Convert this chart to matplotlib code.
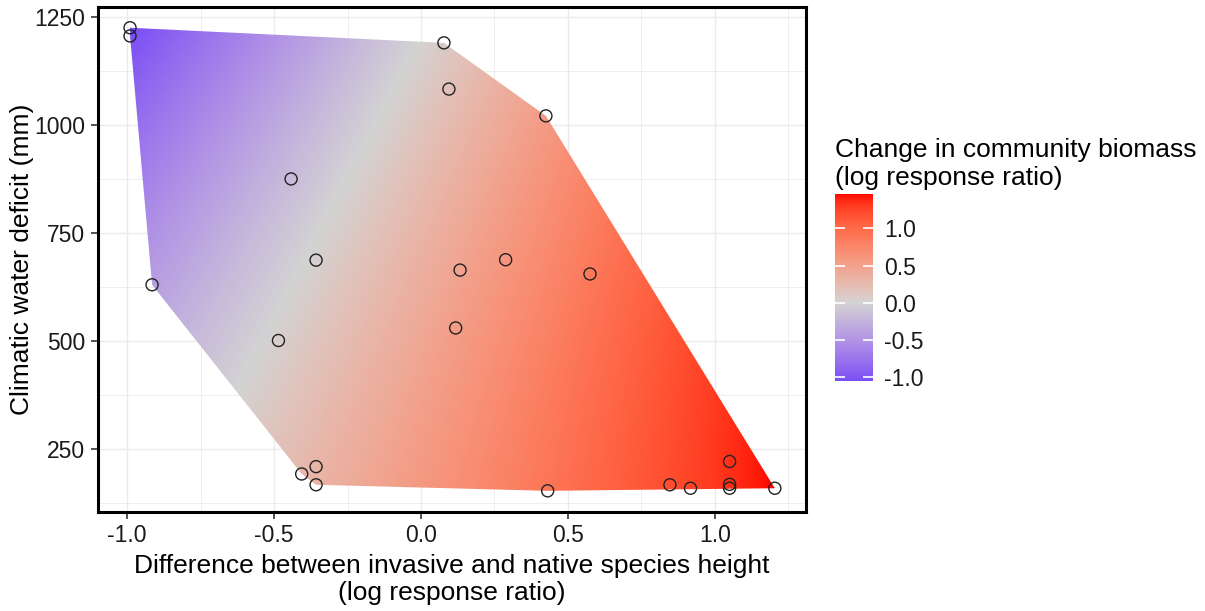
import numpy as np
import matplotlib
matplotlib.use("Agg")
import matplotlib.pyplot as plt
from matplotlib.colors import ListedColormap, Normalize
from matplotlib.patches import Polygon

plt.rcParams['font.family'] = ['Liberation Sans', 'DejaVu Sans']

# observed sites: height difference (log RR) and climatic water deficit (mm)
height_diff = [-0.99, -0.99, -0.442, -0.357, -0.915, 0.078, 0.095, 0.425,
               0.133, 0.288, 0.575, 0.118, 0.431, 0.847, 0.917, 1.05,
               1.05, 1.05, 1.204, -0.485, -0.406, -0.357, -0.357]
water_deficit = [1225, 1206, 875, 687, 630, 1190, 1083, 1021,
                 664, 688, 655, 530, 153, 167, 159, 221,
                 168, 159, 159, 501, 192, 209, 167]

# fitted biomass surface: z = (s0 + s1*y) * (x - (x0 + x1*y))
slope_coef = [0.683, 0.000295]
zero_coef = [-0.916, 0.00076]

cbar_ticks = [-1.0, -0.5, 0.0, 0.5, 1.0]
cbar_labels = ['-1.0', '-0.5', '0.0', '0.5', '1.0']
x_ticks = [-1.0, -0.5, 0.0, 0.5, 1.0]
x_labels = ['-1.0', '-0.5', '0.0', '0.5', '1.0']
y_ticks = [250, 500, 750, 1000, 1250]


def surface(x, y):
    return (slope_coef[0] + slope_coef[1] * y) * (x - (zero_coef[0] + zero_coef[1] * y))


# --- ggplot-like gradient2 in Lab space (low=blue, mid=lightgrey, high=red)
WHITE = np.array([0.95047, 1.0, 1.08883])
M = np.array([[0.4124, 0.3576, 0.1805], [0.2126, 0.7152, 0.0722], [0.0193, 0.1192, 0.9505]])


def rgb_to_lab(rgb):
    c = np.asarray(rgb, float)
    c = np.where(c > 0.04045, ((c + 0.055) / 1.055) ** 2.4, c / 12.92)
    t = (M @ c) / WHITE
    d = 6 / 29
    f = np.where(t > d ** 3, np.cbrt(t), t / (3 * d * d) + 4 / 29)
    return np.array([116 * f[1] - 16, 500 * (f[0] - f[1]), 200 * (f[1] - f[2])])


def lab_to_rgb(lab):
    L, a, b = lab
    fy = (L + 16) / 116
    fx = fy + a / 500
    fz = fy - b / 200
    d = 6 / 29
    f = np.array([fx, fy, fz])
    t = np.where(f > d, f ** 3, 3 * d * d * (f - 4 / 29)) * WHITE
    c = np.linalg.solve(M, t)
    c = np.where(c > 0.0031308, 1.055 * np.clip(c, 0, None) ** (1 / 2.4) - 0.055, 12.92 * c)
    return np.clip(c, 0, 1)


low = rgb_to_lab([0, 0, 1])
mid = rgb_to_lab([211 / 255, 211 / 255, 211 / 255])
high = rgb_to_lab([1, 0, 0])

zmin, zmax = -1.05, 1.46
span = max(abs(zmin), abs(zmax))
vals = np.linspace(zmin, zmax, 256)
cols = []
for v in vals:
    t = abs(v) / span
    end = high if v > 0 else low
    cols.append(lab_to_rgb(mid + t * (end - mid)))
cmap = ListedColormap(cols)
norm = Normalize(zmin, zmax)

# --- figure
fig = plt.figure(figsize=(12.05, 6.11), dpi=100)
ax = fig.add_axes([98 / 1205, 1 - 512 / 611, 708 / 1205, 505 / 611])
ax.set_xlim(-1.099, 1.31)
ax.set_ylim(104, 1273)

# gridlines (major + minor)
for gx in np.arange(-1.0, 1.3, 0.25):
    ax.axvline(gx, color='#ebebeb', lw=1.0 if gx * 4 % 2 == 0 else 0.6, zorder=0)
for gy in np.arange(125, 1275, 125):
    ax.axhline(gy, color='#ebebeb', lw=1.0 if gy % 250 == 0 else 0.6, zorder=0)

# convex hull of the observations (monotone chain)
pts = sorted(set(zip(height_diff, water_deficit)))


def cross(o, a, b):
    return (a[0] - o[0]) * (b[1] - o[1]) - (a[1] - o[1]) * (b[0] - o[0])


lower, upper = [], []
for p in pts:
    while len(lower) >= 2 and cross(lower[-2], lower[-1], p) <= 0:
        lower.pop()
    lower.append(p)
for p in reversed(pts):
    while len(upper) >= 2 and cross(upper[-2], upper[-1], p) <= 0:
        upper.pop()
    upper.append(p)
hull = lower[:-1] + upper[:-1]

gx = np.linspace(-1.0, 1.21, 400)
gy = np.linspace(150, 1230, 400)
XX, YY = np.meshgrid(gx, gy)
ZZ = surface(XX, YY)
im = ax.imshow(ZZ, extent=[gx[0], gx[-1], gy[0], gy[-1]], origin='lower',
               cmap=cmap, norm=norm, aspect='auto', interpolation='bilinear', zorder=1)
clip = Polygon(hull, closed=True, transform=ax.transData, facecolor='none', edgecolor='none')
ax.add_patch(clip)
im.set_clip_path(clip)

ax.scatter(height_diff, water_deficit, s=75, facecolors='none', edgecolors='#222222',
           linewidths=1.0, zorder=3)

ax.set_xticks(x_ticks)
ax.set_xticklabels(x_labels)
ax.set_yticks(y_ticks)
ax.tick_params(axis='both', labelsize=16.5, length=5, width=1.2, color='#333333',
               labelcolor='#1a1a1a', pad=4)
for s in ax.spines.values():
    s.set_linewidth(2.2)
    s.set_color('black')

ax.set_xlabel('Difference between invasive and native species height\n(log response ratio)',
              fontsize=19, labelpad=5, linespacing=1.15)
ax.set_ylabel('Climatic water deficit (mm)', fontsize=19, labelpad=0)

# colourbar
cax = fig.add_axes([835 / 1205, 1 - 381 / 611, 38 / 1205, 187 / 611])
cb = fig.colorbar(im, cax=cax, ticks=cbar_ticks)
cb.set_ticklabels(cbar_labels)
cb.outline.set_visible(False)
cax.tick_params(direction='in', color='white', length=7, width=1.2, left=True, right=True,
                labelsize=16.5, labelcolor='#1a1a1a', pad=8)
fig.text(835 / 1205, 1 - 164 / 611, 'Change in community biomass\n(log response ratio)',
         fontsize=19, ha='left', va='center', linespacing=1.2)

fig.savefig('out.png', dpi=100)
